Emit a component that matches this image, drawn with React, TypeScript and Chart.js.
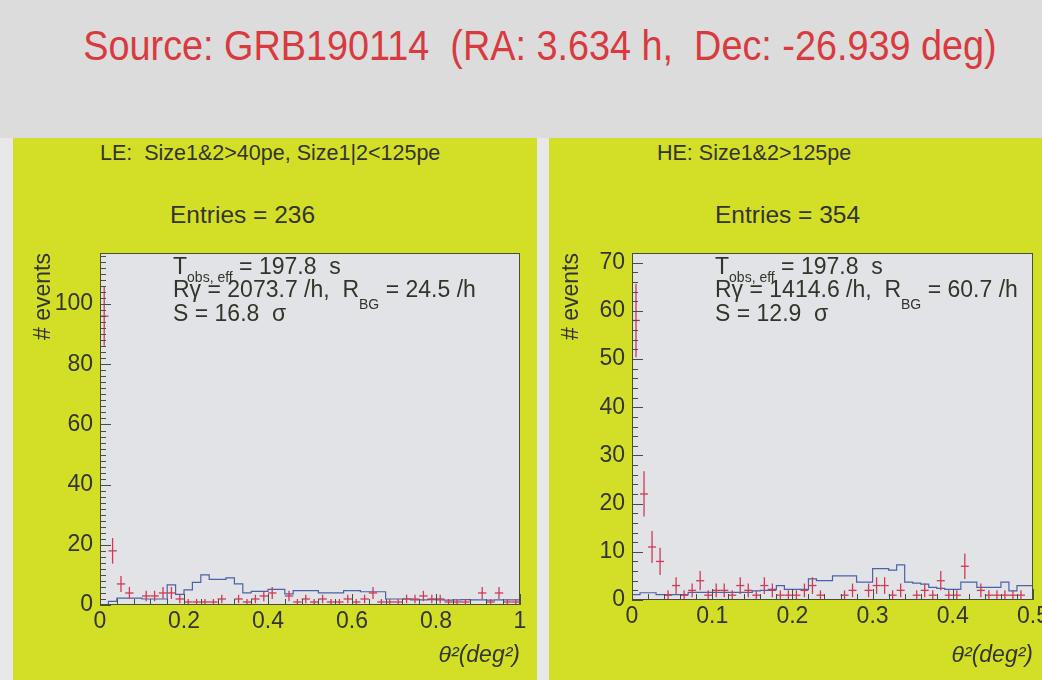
import React, { useEffect, useRef } from "react";
import { Chart, registerables } from "chart.js";

Chart.register(...registerables);

const FONT = '"Liberation Sans", Arial, Helvetica, sans-serif';
Chart.defaults.font.family = FONT;

// ---------- data ----------
const TITLE = "Source: GRB190114  (RA: 3.634 h,  Dec: -26.939 deg)";

const LE_HEADER = "LE:  Size1&2>40pe, Size1|2<125pe";
const LE_ENTRIES = "Entries = 236";
const LE_BIN_WIDTH = 0.02;
const LE_X_MAX = 1;
const LE_Y_MAX = 117;
const LE_X_STEP = 0.2;
const LE_Y_STEP = 20;
// ON counts (red points with errors), 50 bins of 0.02 deg^2
const LE_ON = [
  96, 18, 7, 4, 0, 3, 3, 4, 4, 2,
  1, 1, 1, 1, 2, 0, 2, 1, 2, 3,
  4, 0, 3, 1, 2, 1, 2, 1, 1, 2,
  1, 2, 4, 1, 1, 1, 2, 2, 3, 2,
  2, 1, 1, 1, 0, 4, 1, 4, 1, 1,
];
// OFF / background (blue step histogram)
const LE_OFF = [
  0, 0, 1.2, 2.3, 2.3, 2.3, 2, 2, 2, 6.7,
  3.5, 5, 7.5, 10, 8.5, 8.5, 9, 7, 4, 4.5,
  4.5, 5.2, 5.2, 3.7, 4.8, 4.8, 4.8, 4, 4, 4,
  4.8, 4.8, 4.4, 4.4, 4.4, 2, 2, 2, 1.7, 1.7,
  1.8, 1.7, 1.6, 1.7, 1.8, 1.7, 1.7, 1.6, 1.7, 1.7,
];
const LE_STATS = { tobs: "197.8", rgamma: "2073.7", rbg: "24.5", sig: "16.8" };

const HE_HEADER = "HE: Size1&2>125pe";
const HE_ENTRIES = "Entries = 354";
const HE_BIN_WIDTH = 0.01;
const HE_X_MAX = 0.5;
const HE_Y_MAX = 72;
const HE_X_STEP = 0.1;
const HE_Y_STEP = 10;
const HE_ON = [
  58, 22, 11, 8, 1, 3, 1, 2, 4, 1,
  2, 2, 1, 3, 2, 1, 3, 2, 1, 1,
  1, 2, 3, 1, 0, 0, 1, 2, 0, 2,
  3, 3, 1, 2, 0, 1, 2, 1, 4, 1,
  1, 7, 0, 2, 1, 1, 1, 1, 1, 0,
];
const HE_OFF = [
  1.8, 1.1, 1.5, 1.5, 1.1, 1.1, 1.1, 1.1, 1.6, 1.6,
  1.6, 1.6, 1.6, 1.6, 1.6, 1.6, 1.9, 2, 2.2, 3,
  2.2, 2.2, 2.2, 4.4, 4, 4, 5, 5, 5, 3.7,
  3.7, 6.5, 6.5, 6.2, 7.3, 3.7, 3.5, 3.3, 2.6, 2.4,
  2.2, 2.2, 3.7, 3.7, 2.6, 2.6, 2.6, 3.7, 1.9, 3,
];
const HE_STATS = { tobs: "197.8", rgamma: "1414.6", rbg: "60.7", sig: "12.9" };

const X_TITLE = "θ²(deg²)";
const Y_TITLE = "# events";

// ---------- styles ----------
const PAGE_BG = "#dcdcdc";
const SIDE_BG = "#e8e8e8";
const PANEL_BG = "#d3de27";
const PLOT_BG = "#e2e3e7";
const TEXT = "#33352a";
const TITLE_RED = "#d83a3e";
const RED = "#cf3a55";
const BLUE = "#4a62a6";
const FRAME = "#4a4e34";

const plotDecor = {
  id: "plotDecor",
  beforeDraw(chart: any, _a: any, opts: any) {
    const { ctx, chartArea: a } = chart;
    ctx.save();
    ctx.fillStyle = opts.background;
    ctx.fillRect(a.left, a.top, a.right - a.left, a.bottom - a.top);
    ctx.restore();
  },
  afterDatasetsDraw(chart: any, _a: any, opts: any) {
    const { ctx, chartArea: a, scales } = chart;
    const xs = scales.x;
    const ys = scales.y;
    ctx.save();
    ctx.strokeStyle = opts.color;
    ctx.lineWidth = 1;
    ctx.beginPath();
    const ny = Math.floor(ys.max / opts.yMinor + 1e-9);
    for (let i = 0; i <= ny; i++) {
      const py = Math.round(ys.getPixelForValue(i * opts.yMinor)) + 0.5;
      const len = i % opts.yPerMajor === 0 ? 11 : 6;
      ctx.moveTo(a.left, py);
      ctx.lineTo(a.left + len, py);
    }
    const nx = Math.floor(xs.max / opts.xMinor + 1e-9);
    for (let i = 0; i <= nx; i++) {
      const px = Math.round(xs.getPixelForValue(i * opts.xMinor)) + 0.5;
      const len = i % opts.xPerMajor === 0 ? 11 : 6;
      ctx.moveTo(px, a.bottom);
      ctx.lineTo(px, a.bottom - len);
    }
    ctx.stroke();
    ctx.strokeRect(a.left + 0.5, a.top + 0.5, a.right - a.left - 1, a.bottom - a.top - 1);
    ctx.restore();
  },
};

type HistProps = {
  left: number; top: number; width: number; height: number;
  on: number[]; off: number[]; binWidth: number;
  xMax: number; yMax: number; xStep: number; yStep: number;
  yAxisWidth: number; xAxisHeight: number; padRight: number; yTitlePad: number;
};

const fmt = (v: any) => String(Number(Number(v).toFixed(3)));

function Histogram(p: HistProps) {
  const ref = useRef<HTMLCanvasElement>(null);
  useEffect(() => {
    const onPts = p.on
      .map((v, i) => ({ x: (i + 0.5) * p.binWidth, y: v }))
      .filter((pt) => pt.y > 0);
    const offPts = p.off.map((v, i) => ({ x: i * p.binWidth, y: v }));
    offPts.push({ x: p.off.length * p.binWidth, y: p.off[p.off.length - 1] });

    const errRadius = (ctx: any) => {
      const raw = ctx.raw;
      const ys = ctx.chart.scales.y;
      if (!raw || !ys) return 0;
      return Math.abs(ys.getPixelForValue(raw.y + Math.sqrt(raw.y)) - ys.getPixelForValue(raw.y));
    };
    const binRadius = (ctx: any) => {
      const xs = ctx.chart.scales.x;
      if (!xs) return 0;
      return (xs.getPixelForValue(p.binWidth) - xs.getPixelForValue(0)) / 2;
    };

    const tickFont = { family: FONT, size: 23 };
    const chart = new Chart(ref.current as HTMLCanvasElement, {
      type: "scatter",
      data: {
        datasets: [
          {
            label: "ON error",
            data: onPts,
            pointStyle: "line",
            pointRotation: 90,
            pointRadius: errRadius,
            pointHoverRadius: 0,
            pointBorderColor: RED,
            pointBorderWidth: 1.3,
          } as any,
          {
            label: "ON bin",
            data: onPts,
            pointStyle: "line",
            pointRadius: binRadius,
            pointHoverRadius: 0,
            pointBorderColor: RED,
            pointBorderWidth: 1.3,
          } as any,
          {
            label: "OFF",
            data: offPts,
            showLine: true,
            stepped: "after",
            borderColor: BLUE,
            borderWidth: 1.2,
            pointRadius: 0,
            fill: false,
          } as any,
        ],
      },
      options: {
        responsive: false,
        animation: false,
        events: [],
        layout: { padding: { top: 8, right: p.padRight, left: 0, bottom: 0 } },
        plugins: {
          legend: { display: false },
          tooltip: { enabled: false },
          plotDecor: {
            background: PLOT_BG,
            color: FRAME,
            yMinor: p.yStep / 10 >= 2 ? 2 : p.yStep / 5,
            yPerMajor: p.yStep / 10 >= 2 ? p.yStep / 2 : 5,
            xMinor: p.xStep / 5,
            xPerMajor: 5,
          },
        } as any,
        scales: {
          x: {
            type: "linear",
            min: 0,
            max: p.xMax,
            afterFit: (s: any) => {
              s.height = p.xAxisHeight;
              s.paddingLeft = 0;
              s.paddingRight = 0;
            },
            grid: { display: false, drawTicks: false },
            border: { display: false },
            ticks: {
              stepSize: p.xStep,
              includeBounds: false,
              padding: 3,
              color: TEXT,
              font: tickFont,
              maxRotation: 0,
              autoSkip: false,
              callback: fmt,
            },
            title: {
              display: true,
              text: X_TITLE,
              align: "end",
              color: TEXT,
              font: { family: FONT, size: 23, style: "italic" },
              padding: { top: 0, bottom: 6 },
            },
          },
          y: {
            type: "linear",
            min: 0,
            max: p.yMax,
            afterFit: (s: any) => {
              s.width = p.yAxisWidth;
              s.paddingTop = 0;
              s.paddingBottom = 0;
            },
            grid: { display: false, drawTicks: false },
            border: { display: false },
            ticks: {
              stepSize: p.yStep,
              includeBounds: false,
              padding: 7,
              color: TEXT,
              font: tickFont,
              callback: fmt,
            },
            title: {
              display: true,
              text: Y_TITLE,
              align: "end",
              color: TEXT,
              font: { family: FONT, size: 23 },
              padding: { top: p.yTitlePad, bottom: 0 },
            },
          },
        },
      } as any,
      plugins: [plotDecor as any],
    });
    return () => chart.destroy();
  }, []);
  return (
    <canvas
      ref={ref}
      width={p.width}
      height={p.height}
      style={{ position: "absolute", left: p.left, top: p.top, width: p.width, height: p.height }}
    />
  );
}

const txt: React.CSSProperties = {
  position: "absolute",
  whiteSpace: "pre",
  lineHeight: 1,
  color: TEXT,
  fontFamily: FONT,
};

function Stats({ left, s }: { left: number; s: typeof LE_STATS }) {
  const sub = (t: string, dy: number, fs: number) => (
    <span style={{ fontSize: fs, position: "relative", top: dy }}>{t}</span>
  );
  return (
    <>
      <div style={{ ...txt, left, top: 255, fontSize: 23 }}>
        T{sub("obs, eff", 8, 14)}{` = ${s.tobs}  s`}
      </div>
      <div style={{ ...txt, left, top: 278, fontSize: 23 }}>
        {`Rγ = ${s.rgamma} /h,  R`}
        {sub("BG", 12, 14)}
        {` = ${s.rbg} /h`}
      </div>
      <div style={{ ...txt, left, top: 302, fontSize: 23 }}>{`S = ${s.sig}  σ`}</div>
    </>
  );
}

export default function App() {
  return (
    <div
      style={{
        position: "absolute",
        left: 0,
        top: 0,
        width: 1042,
        height: 680,
        overflow: "hidden",
        background: PAGE_BG,
        fontFamily: FONT,
      }}
    >
      <div style={{ position: "absolute", left: 0, top: 138, width: 1042, height: 542, background: SIDE_BG }} />
      <div style={{ position: "absolute", left: 13, top: 138, width: 524, height: 542, background: PANEL_BG }} />
      <div style={{ position: "absolute", left: 549, top: 138, width: 493, height: 542, background: PANEL_BG }} />

      <div
        style={{
          ...txt,
          left: 19,
          width: 1042,
          textAlign: "center",
          top: 25,
          fontSize: 42,
          color: TITLE_RED,
          transform: "scaleX(0.9)",
          transformOrigin: "center",
        }}
      >
        {TITLE}
      </div>

      <div style={{ ...txt, left: 100, top: 143, fontSize: 21.5 }}>{LE_HEADER}</div>
      <div style={{ ...txt, left: 170, top: 203, fontSize: 24.5 }}>{LE_ENTRIES}</div>
      <div style={{ ...txt, left: 657, top: 143, fontSize: 21.5 }}>{HE_HEADER}</div>
      <div style={{ ...txt, left: 715, top: 203, fontSize: 24.5 }}>{HE_ENTRIES}</div>

      <Histogram
        left={30}
        top={245}
        width={505}
        height={430}
        on={LE_ON}
        off={LE_OFF}
        binWidth={LE_BIN_WIDTH}
        xMax={LE_X_MAX}
        yMax={LE_Y_MAX}
        xStep={LE_X_STEP}
        yStep={LE_Y_STEP}
        yAxisWidth={70}
        xAxisHeight={70}
        padRight={15}
        yTitlePad={0}
      />
      <Histogram
        left={550}
        top={245}
        width={492}
        height={430}
        on={HE_ON}
        off={HE_OFF}
        binWidth={HE_BIN_WIDTH}
        xMax={HE_X_MAX}
        yMax={HE_Y_MAX}
        xStep={HE_X_STEP}
        yStep={HE_Y_STEP}
        yAxisWidth={82}
        xAxisHeight={75}
        padRight={9}
        yTitlePad={8}
      />

      <Stats left={173} s={LE_STATS} />
      <Stats left={715} s={HE_STATS} />
    </div>
  );
}
